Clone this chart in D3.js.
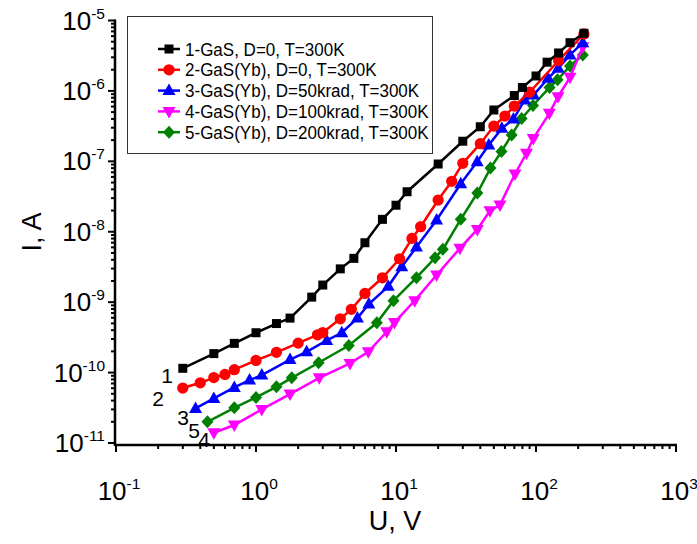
<!DOCTYPE html>
<html><head><meta charset="utf-8">
<script src="https://cdn.jsdelivr.net/npm/d3@7"></script>
<style>body{margin:0;background:#fff;} svg{display:block;font-family:"Liberation Sans",Arial,sans-serif;}</style>
</head><body>
<script>
// ---- data (U in V, I in A) ----
const s1U = [0.3,0.5,0.7,1.0,1.4,1.75,2.5,3,4,5,6,8,10,12,20,30,40,50,70,80,100,120,145,175,220];
const s1I = [1.15e-10,1.86e-10,2.6e-10,3.68e-10,4.97e-10,5.94e-10,1.18e-9,1.75e-9,2.97e-9,4.19e-9,6.98e-9,1.5e-8,2.38e-8,3.7e-8,9.16e-8,1.93e-7,3.1e-7,5.36e-7,8.6e-7,1.12e-6,1.63e-6,2.56e-6,3.46e-6,4.84e-6,6.58e-6];
const s2U = [0.3,0.4,0.5,0.6,0.7,1.0,1.4,2,2.75,3,4,4.8,6,8,10.6,13,15,20,25,30,40,50,60,70,90,145,220];
const s2I = [6.03e-11,7.16e-11,8.49e-11,9.42e-11,1.1e-10,1.49e-10,1.94e-10,2.62e-10,3.44e-10,3.7e-10,5.81e-10,7.91e-10,1.33e-9,2.22e-9,4.13e-9,8.05e-9,1.18e-8,2.82e-8,5.2e-8,9.37e-8,1.78e-7,3.17e-7,4.4e-7,6.1e-7,9.58e-7,2.7e-6,6.43e-6];
const s3U = [0.37,0.5,0.7,0.9,1.1,1.75,2.3,3.2,4.1,5.3,6.4,8.8,11,14,19.5,29,38,46,57,69,83,96,122,144,175,216];
const s3I = [3.1e-11,4.3e-11,6.16e-11,7.82e-11,9.21e-11,1.53e-10,1.97e-10,2.86e-10,3.68e-10,5.94e-10,9.4e-10,1.68e-9,3.18e-9,6.06e-9,1.47e-8,4.79e-8,9.87e-8,1.71e-7,2.94e-7,3.99e-7,7.43e-7,8.75e-7,1.51e-6,2.09e-6,3.24e-6,4.84e-6];
const s4U = [0.5,0.7,1.1,1.75,2.83,4.69,6.34,8.59,9.75,13.6,19.5,28.6,38.1,46.9,55.3,70.8,85.5,95.6,124.5,143.6,175,216];
const s4I = [1.4e-11,1.8e-11,3.0e-11,4.95e-11,8.43e-11,1.35e-10,1.97e-10,3.8e-10,5.13e-10,1.05e-9,2.43e-9,5.81e-9,1.08e-8,1.99e-8,2.39e-8,6.61e-8,1.3e-7,2.11e-7,4.81e-7,8.27e-7,1.56e-6,4.24e-6];
const s5U = [0.45,0.7,1.0,1.4,1.8,2.8,4.6,7.3,9.6,14,19,21.6,29,38.1,47.3,56.7,67,79,95.2,125,142.5,175,216];
const s5I = [2.0e-11,3.16e-11,4.44e-11,6.28e-11,8.43e-11,1.38e-10,2.42e-10,5.1e-10,1.05e-9,2.23e-9,4.27e-9,5.62e-9,1.5e-8,3.55e-8,8.03e-8,1.38e-7,2.36e-7,4.06e-7,6.21e-7,1.12e-6,1.44e-6,2.26e-6,3.24e-6];

const seriesNames = ["1-GaS, D=0, T=300K","2-GaS(Yb), D=0, T=300K","3-GaS(Yb), D=50krad, T=300K","4-GaS(Yb), D=100krad, T=300K","5-GaS(Yb), D=200krad, T=300K"];
const seriesColors = ["#000000","#ff0000","#0000ff","#ff00ff","#008000"];
const seriesSymbols = ["square","circle","triUp","triDown","diamond"];
const curveLabels = ["1","2","3","4","5"];
const xTickExps = [-1,0,1,2,3];
const yTickExps = [-11,-10,-9,-8,-7,-6,-5];
const xTitle = "U, V", yTitle = "I, A";

const W = 697, H = 544;
const svg = d3.select("body").append("svg").attr("width",W).attr("height",H);

const x = d3.scaleLog().domain([0.1,1000]).range([116,676]);
const y = d3.scaleLog().domain([1e-11,1e-5]).range([443,20.5]);
const axisY = 445, axisX = 115;

const series = [
  {U:s1U,I:s1I},{U:s2U,I:s2I},{U:s3U,I:s3I},{U:s4U,I:s4I},{U:s5U,I:s5I}
].map((d,i)=>({name:seriesNames[i],color:seriesColors[i],sym:seriesSymbols[i],
  pts:d.U.map((u,j)=>[u,d.I[j]])}));

function symPath(sym){
  switch(sym){
    case "square": return "M-4.5,-4.5H4.5V4.5H-4.5Z";
    case "circle": return d3.symbol(d3.symbolCircle, 100)();
    case "triUp": return "M0,-7L6.5,4.5H-6.5Z";
    case "triDown": return "M0,7L6.5,-4.5H-6.5Z";
    case "diamond": return "M0,-6.5L6,0L0,6.5L-6,0Z";
  }
}

const line = d3.line().x(d=>x(d[0])).y(d=>y(d[1]));
const order = [4,3,2,1,0];
order.forEach(i=>{
  const s = series[i];
  const g = svg.append("g");
  g.append("path").attr("d",line(s.pts)).attr("fill","none").attr("stroke",s.color).attr("stroke-width",2.5);
  g.selectAll("path.m").data(s.pts).join("path").attr("class","m")
    .attr("transform",d=>`translate(${x(d[0])},${y(d[1])})`)
    .attr("d",symPath(s.sym)).attr("fill",s.color);
});

// axes
const ax = svg.append("g").attr("stroke","#000").attr("fill","none");
ax.append("line").attr("x1",axisX).attr("x2",x(1000)+1).attr("y1",axisY).attr("y2",axisY).attr("stroke-width",2.5);
ax.append("line").attr("x1",axisX).attr("x2",axisX).attr("y1",axisY+1).attr("y2",y(1e-5)-1).attr("stroke-width",2.5);
x.ticks().forEach(v=>{
  const lg = Math.log10(v), major = Math.abs(lg-Math.round(lg))<1e-9;
  ax.append("line").attr("x1",x(v)).attr("x2",x(v)).attr("y1",axisY).attr("y2",axisY+(major?7:4)).attr("stroke-width",2);
});
y.ticks().forEach(v=>{
  const lg = Math.log10(v), major = Math.abs(lg-Math.round(lg))<1e-9;
  ax.append("line").attr("y1",y(v)).attr("y2",y(v)).attr("x1",axisX).attr("x2",axisX-(major?7:4)).attr("stroke-width",2);
});

function powLabel(g, px, py, exp, anchor){
  const t = g.append("text").attr("x",px).attr("y",py).attr("text-anchor",anchor)
    .attr("font-size",26).attr("fill","#000");
  t.append("tspan").text("10");
  t.append("tspan").attr("font-size",15.5).attr("dy",-11).text(exp);
  return t;
}
const lab = svg.append("g");
xTickExps.forEach(e=>powLabel(lab, x(Math.pow(10,e))+3, 500, e, "middle"));
yTickExps.forEach(e=>powLabel(lab, 105, y(Math.pow(10,e))+9, e, "end"));

svg.append("text").attr("x",395).attr("y",530).attr("text-anchor","middle").attr("font-size",27).text(xTitle);
svg.append("text").attr("transform","translate(41,232) rotate(-90)").attr("text-anchor","middle").attr("font-size",27).text(yTitle);

const clPos = [[173,383],[164,406],[189,425],[210,447],[200,438]];
curveLabels.forEach((t,i)=>svg.append("text").attr("x",clPos[i][0]).attr("y",clPos[i][1]).attr("text-anchor","end").attr("font-size",21).text(t));

const lg = svg.append("g");
lg.append("rect").attr("x",127.5).attr("y",16.5).attr("width",305).attr("height",137).attr("fill","#fff").attr("stroke","#333").attr("stroke-width",1);
series.forEach((s,i)=>{
  const cy = 49 + i*20.8;
  lg.append("line").attr("x1",158).attr("x2",180).attr("y1",cy).attr("y2",cy).attr("stroke",s.color).attr("stroke-width",2.5);
  lg.append("path").attr("transform",`translate(169,${cy})`).attr("d",symPath(s.sym)).attr("fill",s.color);
  lg.append("text").attr("transform",`translate(185,${cy+6.5}) scale(0.92,1)`).attr("font-size",18.5).text(s.name);
});
</script>
</body></html>
